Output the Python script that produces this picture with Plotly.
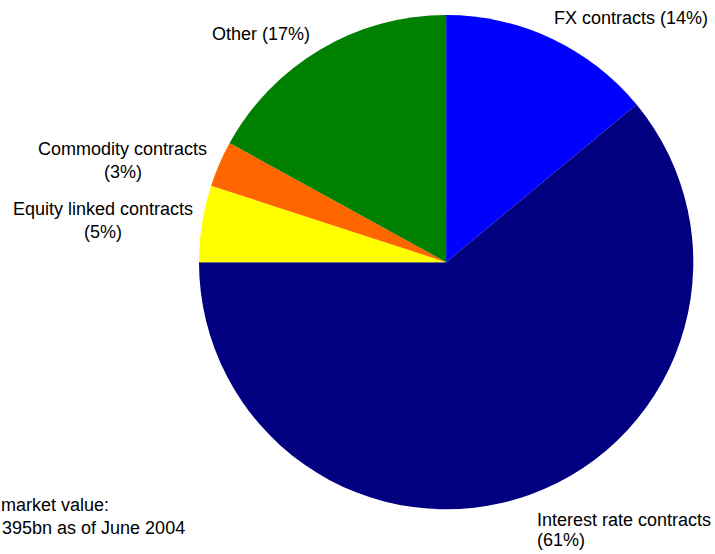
import plotly.graph_objects as go

# OTC derivatives breakdown by market risk category (share of gross market value, %)
categories = ["FX contracts", "Interest rate contracts", "Equity linked contracts",
              "Commodity contracts", "Other"]
shares = [14, 61, 5, 3, 17]
colors = ["#0000FF", "#000080", "#FFFF00", "#FF6600", "#008000"]

note_lines = ["market value:", "395bn as of June 2004"]

W, H = 715, 554


def px(x):
    return x / W


def py(y):
    return 1 - y / H


fig = go.Figure(
    go.Pie(
        labels=categories,
        values=shares,
        sort=False,
        direction="clockwise",
        rotation=0,
        marker=dict(colors=colors, line=dict(width=0)),
        textinfo="none",
        hoverinfo="label+percent",
        showlegend=False,
        domain=dict(x=[px(199), px(693.3)], y=[py(509.3), py(15)]),
    )
)

font = dict(family="Arial, Liberation Sans, sans-serif", size=18, color="#000000")


def label(text, x, y, xanchor="center"):
    fig.add_annotation(
        text=text, x=px(x), y=py(y), xref="paper", yref="paper",
        xanchor=xanchor, yanchor="middle", align=xanchor if xanchor != "center" else "center",
        showarrow=False, font=font,
    )


label(f"{categories[4]} ({shares[4]}%)", 261, 34)
label(f"{categories[0]} ({shares[0]}%)", 631, 18)
label(categories[3], 122, 149)
label(f"({shares[3]}%)", 123, 172)
label(categories[2], 103, 209)
label(f"({shares[2]}%)", 102.5, 232)
label(categories[1], 535, 520, xanchor="left")
label(f"({shares[1]}%)", 535, 540, xanchor="left")
label(note_lines[0], -1, 505, xanchor="left")
label(note_lines[1], 0, 528, xanchor="left")

fig.update_layout(
    width=W, height=H,
    margin=dict(l=0, r=0, t=0, b=0),
    paper_bgcolor="white",
    plot_bgcolor="white",
)

fig.write_html("out.html")
